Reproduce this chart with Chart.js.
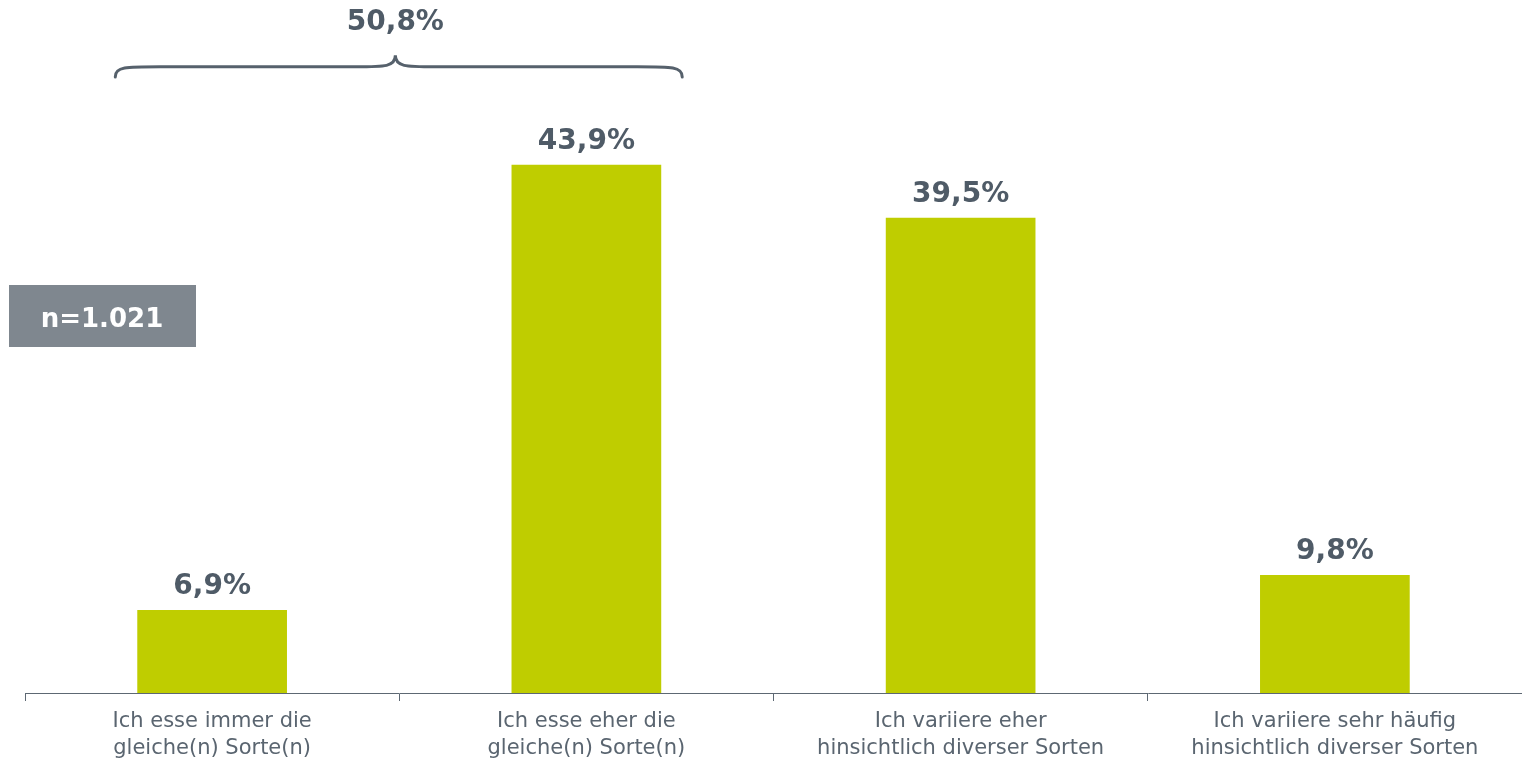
<!DOCTYPE html>
<html>
<head>
<meta charset="utf-8">
<script src="https://cdn.jsdelivr.net/npm/chart.js@4"></script>
<style>
  body { margin: 0; background: #fff; overflow: hidden; }
  #wrap { width: 1522px; height: 760px; position: relative; }
</style>
</head>
<body>
<div id="wrap"><canvas id="myChart"></canvas></div>
<script>
const ctx = document.getElementById('myChart');

const categories = [
  ['Ich esse immer die', 'gleiche(n) Sorte(n)'],
  ['Ich esse eher die', 'gleiche(n) Sorte(n)'],
  ['Ich variiere eher', 'hinsichtlich diverser Sorten'],
  ['Ich variiere sehr häufig', 'hinsichtlich diverser Sorten']
];
const values = [6.9, 43.9, 39.5, 9.8];
const sampleLabel = 'n=1.021';

const textColor = '#4f5b67';
const axisColor = '#5d6873';

function fmt(v) {
  return v.toFixed(1).replace('.', ',') + '%';
}

// value labels, brace over the first two bars and the n box
const extras = {
  id: 'extras',
  afterDatasetsDraw(chart) {
    const c = chart.ctx;
    const meta = chart.getDatasetMeta(0);
    const y = chart.scales.y;

    c.save();
    c.fillStyle = textColor;
    c.font = 'bold 28px "DejaVu Sans"';
    c.textAlign = 'center';
    c.textBaseline = 'alphabetic';
    meta.data.forEach((bar, i) => {
      c.fillText(fmt(values[i]), bar.x, bar.y - 16);
    });

    // brace
    const b0 = meta.data[0], b1 = meta.data[1];
    const x0 = b0.x - b0.width / 2 - 22;
    const x1 = b1.x + b1.width / 2 + 21;
    const xm = x0 + (x1 - x0) * 0.494;
    const yEnd = y.getPixelForValue(51.2);
    const yLine = y.getPixelForValue(52.05);
    const yTip = y.getPixelForValue(53.0);
    c.strokeStyle = '#56616c';
    c.lineWidth = 3;
    c.lineCap = 'round';
    c.beginPath();
    c.moveTo(x0, yEnd);
    c.bezierCurveTo(x0, yLine, x0 + 10, yLine, x0 + 45, yLine);
    c.lineTo(xm - 40, yLine);
    c.bezierCurveTo(xm - 10, yLine, xm, yLine, xm, yTip);
    c.bezierCurveTo(xm, yLine, xm + 10, yLine, xm + 40, yLine);
    c.lineTo(x1 - 45, yLine);
    c.bezierCurveTo(x1 - 10, yLine, x1, yLine, x1, yEnd);
    c.stroke();

    c.fillStyle = textColor;
    c.fillText(fmt(values[0] + values[1]), xm, y.getPixelForValue(55.1));

    // n box
    c.fillStyle = '#7f878f';
    c.fillRect(9, 285, 187, 62);
    c.fillStyle = '#ffffff';
    c.font = 'bold 26px "DejaVu Sans"';
    c.textBaseline = 'middle';
    c.fillText(sampleLabel, 102, 320);
    c.restore();
  }
};

function draw()
{
  new Chart(ctx, {
    type: 'bar',
    data: {
      labels: categories,
      datasets: [{
        data: values,
        backgroundColor: '#bfcd00',
        categoryPercentage: 1,
        barPercentage: 0.4
      }]
    },
    options: {
      responsive: false,
      animation: false,
      layout: { padding: { left: 25, right: 0, top: 0, bottom: 0 } },
      plugins: {
        legend: { display: false },
        tooltip: { enabled: false }
      },
      scales: {
        x: {
          afterFit: s => { s.height = 67; },
          grid: {
            display: true,
            drawOnChartArea: false,
            drawTicks: true,
            tickLength: 8,
            color: axisColor
          },
          border: { display: true, color: axisColor, width: 1 },
          ticks: {
            color: '#5a6570',
            padding: 8,
            maxRotation: 0,
            font: { family: 'DejaVu Sans', size: 21, lineHeight: 1.24 }
          }
        },
        y: {
          display: false,
          min: 0,
          max: 57.6
        }
      }
    },
    plugins: [extras]
  });
}

ctx.width = 1522;
ctx.height = 760;
draw();
</script>
</body>
</html>
